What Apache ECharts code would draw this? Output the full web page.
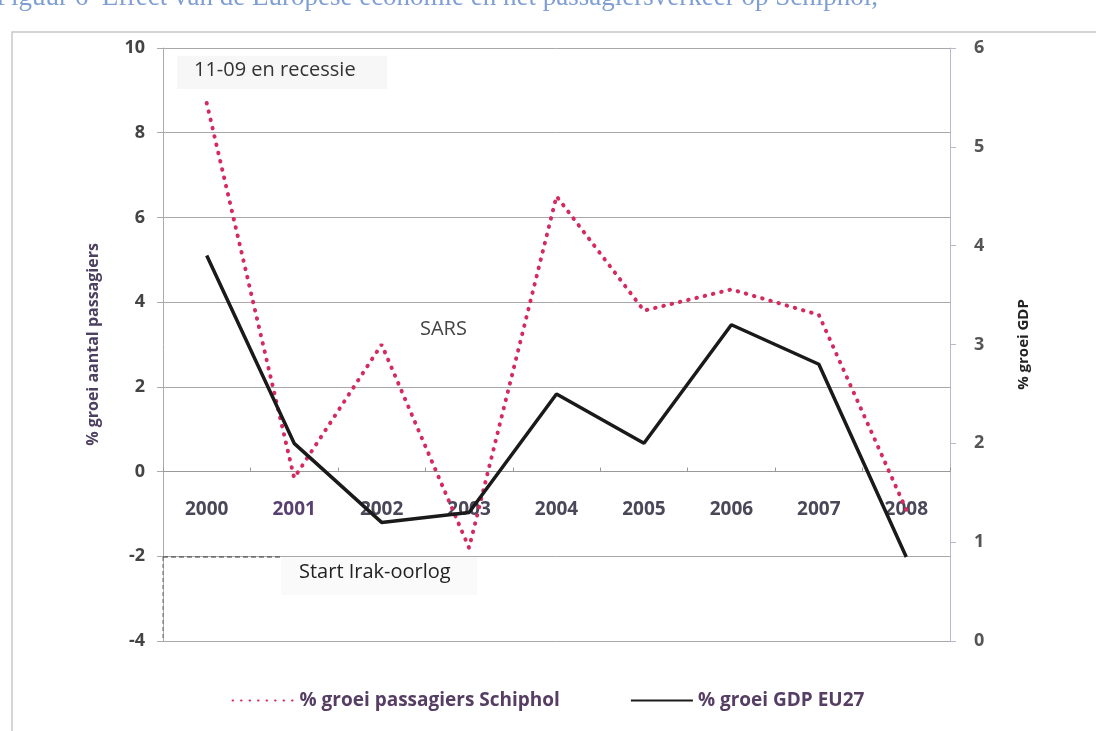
<!DOCTYPE html>
<html>
<head>
<meta charset="utf-8">
<script src="https://cdn.jsdelivr.net/npm/echarts@6/dist/echarts.min.js"></script>
<style>
  html, body { margin: 0; padding: 0; background: #fff; }
  #chart { width: 1096px; height: 731px; }
</style>
</head>
<body>
<div id="chart"></div>
<script>
const years = ['2000', '2001', '2002', '2003', '2004', '2005', '2006', '2007', '2008']
const passengers = [8.7, -0.15, 3.0, -1.8, 6.5, 3.8, 4.3, 3.7, -0.9]
const gdp = [3.9, 2.0, 1.2, 1.3, 2.5, 2.0, 3.2, 2.8, 0.85]

const textColor = '#4d4060'
const chart = echarts.init(document.getElementById('chart'))

// plot height 593px for -4..10, so the zero line sits 4/14 of it above the bottom
const zeroOffset = -593 * 4 / 14

const option = {
  backgroundColor: '#fff',
  animation: false,
  textStyle: { fontFamily: 'Open Sans' },
  grid: { left: 163, right: 146, top: 48, bottom: 90 },
  legend: {
    bottom: 16,
    left: 'center',
    itemGap: 70,
    itemWidth: 62,
    itemHeight: 10,
    itemStyle: { opacity: 0 },
    textStyle: { color: '#553d63', fontSize: 19, fontWeight: 'bold', fontFamily: 'Open Sans' },
    data: ['% groei passagiers Schiphol', '% groei GDP EU27']
  },
  xAxis: {
    type: 'category',
    data: years,
    position: 'bottom',
    offset: zeroOffset,
    axisLine: { onZero: false, lineStyle: { color: '#999', width: 1 } },
    axisTick: { show: true, inside: true, length: 4, lineStyle: { color: '#999' } },
    axisLabel: {
      margin: 29, fontSize: 19, fontWeight: 'bold', fontFamily: 'Open Sans',
      color: (v) => (v === '2001' ? '#5a3f72' : '#4a4858')
    }
  },
  yAxis: [
    {
      type: 'value',
      min: -4, max: 10, interval: 2,
      name: '% groei aantal passagiers',
      nameLocation: 'middle',
      nameGap: 62,
      nameTextStyle: { color: textColor, fontSize: 16, fontWeight: 'bold', fontFamily: 'Open Sans' },
      axisLine: { show: true, lineStyle: { color: '#aaa' } },
      axisTick: { show: true, length: 6, lineStyle: { color: '#aaa' } },
      axisLabel: { color: '#444', fontSize: 18, fontWeight: 'bold', margin: 18 },
      splitLine: { lineStyle: { color: '#a8a8a8', width: 1 } }
    },
    {
      type: 'value',
      min: 0, max: 6, interval: 1,
      position: 'right',
      name: '% groei GDP',
      nameLocation: 'middle',
      nameGap: 66,
      nameRotate: 90,
      nameTextStyle: { color: '#222', fontSize: 15, fontWeight: 'bold', fontFamily: 'Open Sans' },
      axisLine: { show: true, lineStyle: { color: '#b8b8cc' } },
      axisTick: { show: true, length: 6, lineStyle: { color: '#b8b8cc' } },
      axisLabel: { color: '#555', fontSize: 18, fontWeight: 'bold', margin: 24 },
      splitLine: { show: false }
    }
  ],
  series: [
    {
      name: '% groei passagiers Schiphol',
      type: 'line',
      yAxisIndex: 0,
      data: passengers,
      symbol: 'none',
      z: 3,
      itemStyle: { color: '#d42a5e' },
      lineStyle: { color: '#d42a5e', width: 4, type: [0.5, 8], cap: 'round' }
    },
    {
      name: '% groei GDP EU27',
      type: 'line',
      yAxisIndex: 1,
      data: gdp,
      symbol: 'none',
      z: 4,
      itemStyle: { color: '#1a1a1a' },
      lineStyle: { color: '#1a1a1a', width: 3.5 }
    }
  ],
  graphic: [
    {
      type: 'text', left: -4, top: -16, silent: true,
      style: {
        text: 'Figuur 6  Effect van de Europese economie en het passagiersverkeer op Schiphol,',
        fill: '#7f9fd4', font: '27px "Liberation Serif"'
      }
    },
    {
      type: 'rect', silent: true, z: -10,
      shape: { x: 12, y: 32, width: 1100, height: 720 },
      style: { fill: 'none', stroke: '#c8c8c8', lineWidth: 1.5 }
    },
    {
      type: 'rect', silent: true, z: 10,
      shape: { x: 177, y: 56, width: 210, height: 33 },
      style: { fill: '#f7f7f7' }
    },
    {
      type: 'text', silent: true, z: 11, left: 194, top: 60,
      style: { text: '11-09 en recessie', fill: '#333', font: '20px "Open Sans"' }
    },
    {
      type: 'text', silent: true, z: 11, left: 416, top: 317,
      style: { text: 'SARS', fill: '#444', font: '20px "Open Sans"', backgroundColor: '#fff', padding: [2, 4] }
    },
    {
      type: 'rect', silent: true, z: 10,
      shape: { x: 281, y: 557, width: 196, height: 38 },
      style: { fill: '#fafafa' }
    },
    {
      type: 'text', silent: true, z: 11, left: 299, top: 562,
      style: { text: 'Start Irak-oorlog', fill: '#222', font: '20px "Open Sans"' }
    },
    {
      type: 'line', silent: true, z: 9,
      shape: { x1: 163, y1: 557, x2: 281, y2: 557 },
      style: { stroke: '#333', lineWidth: 1, lineDash: [5, 3] }
    },
    {
      type: 'line', silent: true, z: 9,
      shape: { x1: 163, y1: 557, x2: 163, y2: 641 },
      style: { stroke: '#666', lineWidth: 1, lineDash: [4, 3] }
    }
  ]
}

chart.setOption(option)
</script>
</body>
</html>
